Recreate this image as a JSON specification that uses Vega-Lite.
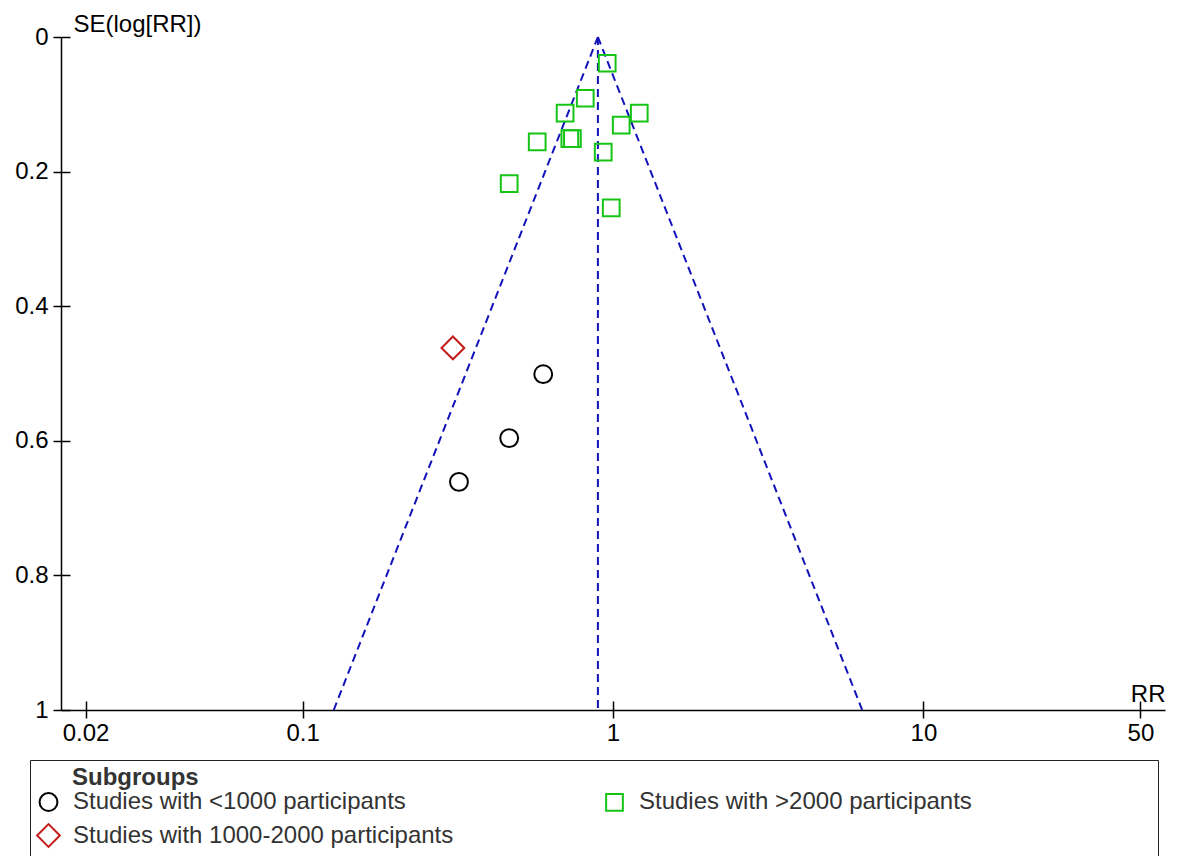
{
  "$schema": "https://vega.github.io/schema/vega-lite/v6.json",
  "autosize": {"type": "none"},
  "padding": {"left": 61, "top": 37, "right": 15, "bottom": 146},
  "width": 1104,
  "height": 673,
  "background": "white",
  "config": {
    "view": {"stroke": null},
    "font": "Liberation Sans",
    "axis": {"grid": false, "labelFont": "Liberation Sans", "titleFont": "Liberation Sans", "labelColor": "black", "titleColor": "black", "domainColor": "black", "tickColor": "black", "domainWidth": 1.5, "tickWidth": 1.5, "labelFontSize": 24, "titleFontSize": 24, "titleFontWeight": "normal"}
  },
  "datasets": {
    "funnel": [
      {"rr": 0.126, "se": 1, "side": "lower"},
      {"rr": 0.894, "se": 0, "side": "lower"},
      {"rr": 0.894, "se": 0, "side": "upper"},
      {"rr": 6.35, "se": 1, "side": "upper"},
      {"rr": 0.894, "se": 0, "side": "pooled"},
      {"rr": 0.894, "se": 1, "side": "pooled"}
    ],
    "studies": [
      {"rr": 0.958, "se": 0.039, "group": "Studies with >2000 participants"},
      {"rr": 0.814, "se": 0.091, "group": "Studies with >2000 participants"},
      {"rr": 0.701, "se": 0.113, "group": "Studies with >2000 participants"},
      {"rr": 1.215, "se": 0.113, "group": "Studies with >2000 participants"},
      {"rr": 1.063, "se": 0.131, "group": "Studies with >2000 participants"},
      {"rr": 0.570, "se": 0.156, "group": "Studies with >2000 participants"},
      {"rr": 0.726, "se": 0.151, "group": "Studies with >2000 participants"},
      {"rr": 0.740, "se": 0.151, "group": "Studies with >2000 participants"},
      {"rr": 0.930, "se": 0.171, "group": "Studies with >2000 participants"},
      {"rr": 0.463, "se": 0.218, "group": "Studies with >2000 participants"},
      {"rr": 0.987, "se": 0.254, "group": "Studies with >2000 participants"},
      {"rr": 0.305, "se": 0.462, "group": "Studies with 1000-2000 participants"},
      {"rr": 0.596, "se": 0.501, "group": "Studies with <1000 participants"},
      {"rr": 0.463, "se": 0.596, "group": "Studies with <1000 participants"},
      {"rr": 0.319, "se": 0.661, "group": "Studies with <1000 participants"}
    ]
  },
  "resolve": {"axis": {"x": "independent", "y": "independent"}},
  "layer": [
    {
      "data": {"name": "funnel"},
      "mark": {"type": "line", "strokeDash": [8, 5], "strokeWidth": 2, "color": "#1212bb"},
      "encoding": {
        "detail": {"field": "side", "type": "nominal"},
        "x": {"field": "rr", "type": "quantitative",
          "scale": {"type": "log", "domain": [0.016667, 60], "nice": false},
          "axis": {"orient": "bottom", "values": [0.02, 0.1, 1, 10, 50], "format": "~g", "tickSize": 8, "labelPadding": 3, "title": "RR", "titleAngle": 0, "titleAlign": "right", "titleBaseline": "alphabetic", "titleX": 1104, "titleY": -9, "labelFlush": false}},
        "y": {"field": "se", "type": "quantitative",
          "scale": {"domain": [0, 1], "reverse": true, "nice": false},
          "axis": {"orient": "left", "values": [0, 0.2, 0.4, 0.6, 0.8, 1], "format": "~g", "tickSize": 8, "labelPadding": 5, "title": "SE(log[RR])", "titleAngle": 0, "titleAlign": "left", "titleBaseline": "alphabetic", "titleX": 12, "titleY": -6, "labelFlush": false}}
      }
    },
    {
      "data": {"name": "studies"},
      "mark": {"type": "point", "filled": false, "strokeWidth": 2, "opacity": 1},
      "encoding": {
        "x": {"field": "rr", "type": "quantitative",
          "axis": {"orient": "bottom", "values": [0.02, 0.1, 1, 10, 50], "domain": false, "labels": false, "tickSize": 9, "offset": -9, "title": null}},
        "y": {"field": "se", "type": "quantitative",
          "axis": {"orient": "left", "values": [0, 0.2, 0.4, 0.6, 0.8, 1], "domain": false, "labels": false, "tickSize": 9, "offset": -9, "title": null}},
        "color": {"field": "group", "type": "nominal",
          "scale": {"domain": ["Studies with <1000 participants", "Studies with >2000 participants", "Studies with 1000-2000 participants"], "range": ["#000000", "#16c416", "#c41a1a"]},
          "legend": {"title": "\u2800\u2800Subgroups", "orient": "none", "legendX": -31, "legendY": 723, "columns": 2, "direction": "horizontal", "gridAlign": "each", "columnPadding": 148, "rowPadding": 5, "padding": 6, "strokeColor": "#222222", "fillColor": "white", "titleFont": "Liberation Sans", "titleFontSize": 24, "titleFontWeight": "bold", "titleColor": "#333333", "titlePadding": 0, "titleLimit": 1000, "labelFont": "Liberation Sans", "labelFontSize": 24, "labelColor": "#333333", "labelLimit": 1200, "labelOffset": 12, "symbolStrokeWidth": 2, "symbolFillColor": "transparent",
            "labelExpr": "datum.label == 'Studies with >2000 participants' ? datum.label + '\u2800\u2800\u2800\u2800\u2800\u2800\u2800\u2800\u2800\u2800' : datum.label"}},
        "shape": {"field": "group", "type": "nominal",
          "scale": {"domain": ["Studies with <1000 participants", "Studies with >2000 participants", "Studies with 1000-2000 participants"], "range": ["circle", "square", "diamond"]}},
        "size": {"field": "group", "type": "nominal",
          "scale": {"type": "ordinal", "domain": ["Studies with <1000 participants", "Studies with >2000 participants", "Studies with 1000-2000 participants"], "range": [320, 280, 520]}}
      }
    }
  ]
}
